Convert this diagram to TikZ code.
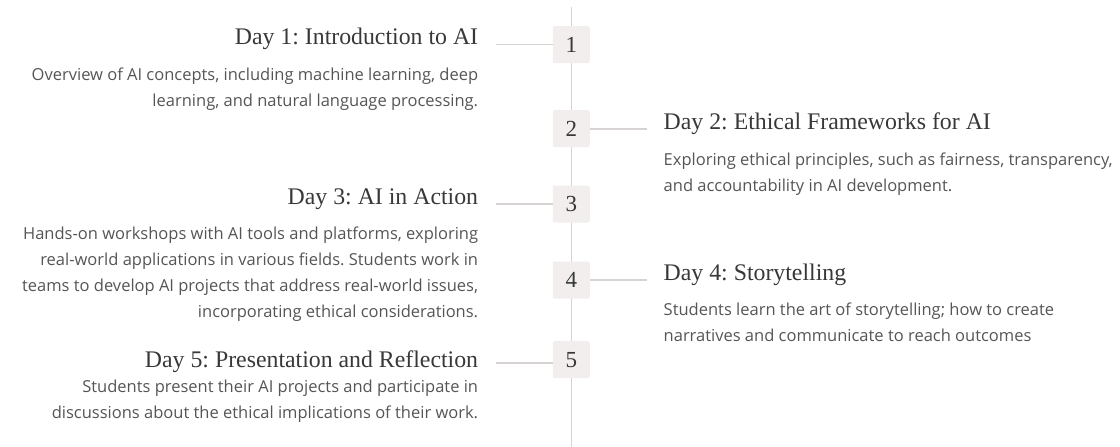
\documentclass[tikz,border=0pt]{standalone}
\usepackage{fontspec}
\setmainfont{Liberation Serif}
\newfontfamily\descfont{Open Sans}
\usetikzlibrary{positioning}
\frenchspacing

\definecolor{spinegray}{HTML}{D8D3D3}
\definecolor{boxfill}{HTML}{F1EEED}
\definecolor{titlegray}{HTML}{383838}
\definecolor{descgray}{HTML}{555555}

\tikzset{
    spine/.style={draw=spinegray, line width=1.6pt},
    link/.style={draw=spinegray, line width=1.6pt},
    daybox/.style={fill=boxfill, rounded corners=2pt, minimum width=37pt, minimum height=37pt,
        inner sep=0pt, text=titlegray, font=\fontsize{23}{23}\selectfont},
    daytitle/.style={inner sep=0pt, text=titlegray, font=\fontsize{23.8}{23.8}\selectfont},
    daytext/.style={inner sep=0pt, text=descgray, font=\descfont\fontsize{16.5}{26}\selectfont},
}

\begin{document}
\begin{tikzpicture}[x=1pt,y=-1pt]
    \useasboundingbox (0,0) rectangle (1120,447);

    % Spine:
    % One grey line from top to bottom, the day boxes are drawn on top of it
    \coordinate (top) at (571.3,7);
    \coordinate (bottom) at (571.3,447);
    \draw[spine] (top) -- (bottom);

    % Day boxes:
    \foreach \n/\y in {1/44.7,2/128.7,3/204,4/280,5/359.7}{%
        \node[daybox] (b\n) at (571.3,\y) {\n};
    }

    % Connectors:
    % Odd days go to the left, even days to the right
    \foreach \n/\y in {1/44.5,3/204,5/362.7}{%
        \coordinate (c\n) at (495.7,\y);
        \draw[link] (c\n) -- (c\n -| b\n.west);
    }
    \foreach \n/\y in {2/128.7,4/280}{%
        \coordinate (c\n) at (646.7,\y);
        \draw[link] (b\n.east |- c\n) -- (c\n);
    }

    % Titles:
    \node[daytitle, anchor=base east] (t1) at (478.3,45) {Day 1: Introduction to AI};
    \node[daytitle, anchor=base west] (t2) at (663.5,129.3) {Day 2: Ethical Frameworks for AI};
    \node[daytitle, anchor=base east] (t3) at (478.3,204) {Day 3: AI in Action};
    \node[daytitle, anchor=base west] (t4) at (663.5,280) {Day 4: Storytelling};
    \node[daytitle, anchor=base east] (t5) at (478.3,367) {Day 5: Presentation and Reflection};

    % Descriptions:
    % The base of a node with several lines is the baseline of its last line
    \node[daytext, anchor=base east, align=right] (p1) at (478.3,106.5)
        {Overview of AI concepts, including machine learning, deep\\
         learning, and natural language processing.};
    \node[daytext, anchor=base west, align=left] (p2) at (663.5,191)
        {Exploring ethical principles, such as fairness, transparency,\\
         and accountability in AI development.};
    \node[daytext, anchor=base east, align=right] (p3) at (478.3,317.5)
        {Hands-on workshops with AI tools and platforms, exploring\\
         real-world applications in various fields. Students work in\\
         teams to develop AI projects that address real-world issues,\\
         incorporating ethical considerations.};
    \node[daytext, anchor=base west, align=left] (p4) at (663.5,341)
        {Students learn the art of storytelling; how to create\\
         narratives and communicate to reach outcomes};
    \node[daytext, anchor=base east, align=right] (p5) at (478.3,418.5)
        {Students present their AI projects and participate in\\
         discussions about the ethical implications of their work.};
\end{tikzpicture}
\end{document}
